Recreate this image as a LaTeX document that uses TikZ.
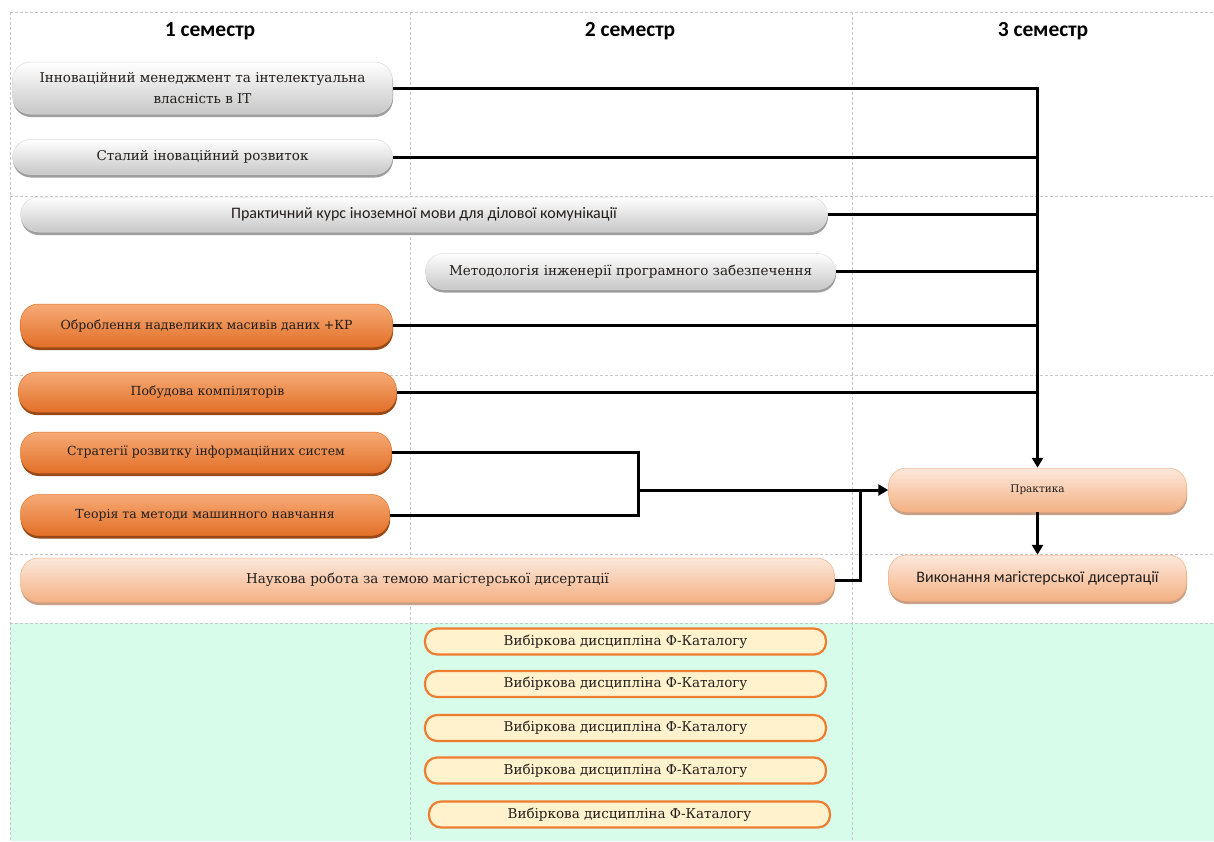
\documentclass[tikz,border=0pt]{standalone}
\usepackage{fontspec}
\setmainfont{DejaVu Serif}
\newfontfamily\calfont{Carlito}
\usetikzlibrary{arrows.meta,shadows}
\definecolor{gridc}{RGB}{200,200,200}
\definecolor{greenbg}{RGB}{216,252,234}
\definecolor{orA}{RGB}{246,170,118}
\definecolor{orB}{RGB}{237,125,49}
\definecolor{orC}{RGB}{226,112,40}
\definecolor{orS}{RGB}{150,72,22}
\definecolor{peA}{RGB}{252,232,220}
\definecolor{peB}{RGB}{244,177,131}
\definecolor{peS}{RGB}{200,160,135}
\definecolor{elF}{RGB}{255,242,204}
\definecolor{elD}{RGB}{237,125,49}
\definecolor{txt}{RGB}{34,30,28}
\tikzset{
  gridline/.style={draw=gridc, line width=0.8pt, dash pattern=on 3pt off 2pt},
  box/.style={rounded corners=18pt, inner sep=0pt, text=txt, align=center},
  graybox/.style={box, top color=white, bottom color=black!22, draw=black!14, line width=0.5pt,
    drop shadow={shadow xshift=0.5pt, shadow yshift=-3pt, fill=black!38, opacity=1}},
  orbox/.style={box, top color=orA, middle color=orB, bottom color=orC, draw=orC, line width=0.5pt,
    drop shadow={shadow xshift=0.5pt, shadow yshift=-3pt, fill=orS, opacity=1}},
  pebox/.style={box, top color=peA, bottom color=peB, draw=peB, line width=0.5pt,
    drop shadow={shadow xshift=0.5pt, shadow yshift=-3pt, fill=peS, opacity=1}},
  elbox/.style={box, rounded corners=12pt, fill=elF, draw=elD, line width=2.2pt,
    minimum width=401pt, minimum height=26pt, font=\fontsize{13.5}{16}\selectfont},
  hdr/.style={font=\calfont\bfseries\fontsize{21.5}{24}\selectfont, text=black},
  conn/.style={line width=3pt, draw=black},
  arr/.style={conn, -{Triangle[length=10pt,width=11pt]}},
}
\begin{document}
\begin{tikzpicture}[x=1pt,y=-1pt]
\useasboundingbox (0,0) rectangle (1214,841);
\fill[white] (0,0) rectangle (1214,841);
\fill[greenbg] (10,623) rectangle (1214,841);
% grid
\draw[gridline] (10,12) -- (1214,12);
\draw[gridline] (10,196) -- (1214,196);
\draw[gridline] (10,375) -- (1214,375);
\draw[gridline] (10,554) -- (1214,554);
\draw[gridline] (10,623) -- (1214,623);
\draw[gridline] (10,12) -- (10,841);
\draw[gridline] (410,12) -- (410,841);
\draw[gridline] (852,12) -- (852,841);
% headers
\node[hdr] (h1) at (210,31) {1 семестр};
\node[hdr] (h2) at (630,31) {2 семестр};
\node[hdr] (h3) at (1043,31) {3 семестр};
% gray
\node[graybox, minimum width=380pt, minimum height=52pt, font=\fontsize{13.5}{21}\selectfont] (n1) at (202.5,88)
  {Інноваційний менеджмент та інтелектуальна\\власність в IT};
\node[graybox, minimum width=380pt, minimum height=35pt, font=\fontsize{13.5}{19}\selectfont] (n2) at (202.5,157)
  {Сталий іноваційний розвиток};
\node[graybox, minimum width=807pt, minimum height=35pt, font=\calfont\fontsize{16}{19}\selectfont] (n3) at (424,214.5)
  {Практичний курс іноземної мови для ділової комунікації};
\node[graybox, minimum width=410pt, minimum height=36pt, font=\fontsize{13.5}{19}\selectfont] (n4) at (630.5,271.5)
  {Методологія інженерії програмного забезпечення};
% orange
\node[orbox, minimum width=372pt, minimum height=43pt, font=\fontsize{12.5}{18}\selectfont] (n5) at (206.5,325.5)
  {Оброблення надвеликих масивів даних +КР};
\node[orbox, minimum width=378pt, minimum height=40pt, font=\fontsize{12.5}{18}\selectfont] (n6) at (207.5,392)
  {Побудова компіляторів};
\node[orbox, minimum width=371pt, minimum height=41pt, font=\fontsize{12.5}{18}\selectfont] (n7) at (206,452.5)
  {Стратегії розвитку інформаційних систем};
\node[orbox, minimum width=369pt, minimum height=41pt, font=\fontsize{12.5}{18}\selectfont] (n8) at (205,515)
  {Теорія та методи машинного навчання};
% peach
\node[pebox, minimum width=814pt, minimum height=44pt, font=\fontsize{13.5}{19}\selectfont] (n9) at (427.5,580)
  {Наукова робота за темою магістерської дисертації};
\node[pebox, minimum width=298pt, minimum height=44pt, font=\fontsize{10.5}{14}\selectfont] (prak) at (1037.5,490)
  {Практика};
\node[pebox, minimum width=298pt, minimum height=46pt, font=\calfont\fontsize{16}{19}\selectfont] (vyk) at (1037.5,578)
  {Виконання магістерської дисертації};
% electives
\node[elbox] (e1) at (625.5,641.5) {Вибіркова дисципліна Ф-Каталогу};
\node[elbox] (e2) at (625.5,684) {Вибіркова дисципліна Ф-Каталогу};
\node[elbox] (e3) at (625.5,728) {Вибіркова дисципліна Ф-Каталогу};
\node[elbox] (e4) at (625.5,770.5) {Вибіркова дисципліна Ф-Каталогу};
\node[elbox] (e5) at (629.5,814.5) {Вибіркова дисципліна Ф-Каталогу};
% connectors
\coordinate (br) at (638,490);
\coordinate (jn) at (860,490);
\draw[arr] (n1.east) -| (prak.north);
\draw[conn] (n2.east) -- (n2.east -| prak.north);
\draw[conn] (n3.east) -- (n3.east -| prak.north);
\draw[conn] (n4.east) -- (n4.east -| prak.north);
\draw[conn] (n5.east) -- (n5.east -| prak.north);
\draw[conn] (n6.east) -- (n6.east -| prak.north);
\draw[conn] (n7.east) -| (br) |- (n8.east);
\draw[arr] (br) -- (prak.west);
\draw[conn] (n9.east) -| (jn);
\draw[arr] (prak.south) -- (vyk.north);
\end{tikzpicture}
\end{document}
